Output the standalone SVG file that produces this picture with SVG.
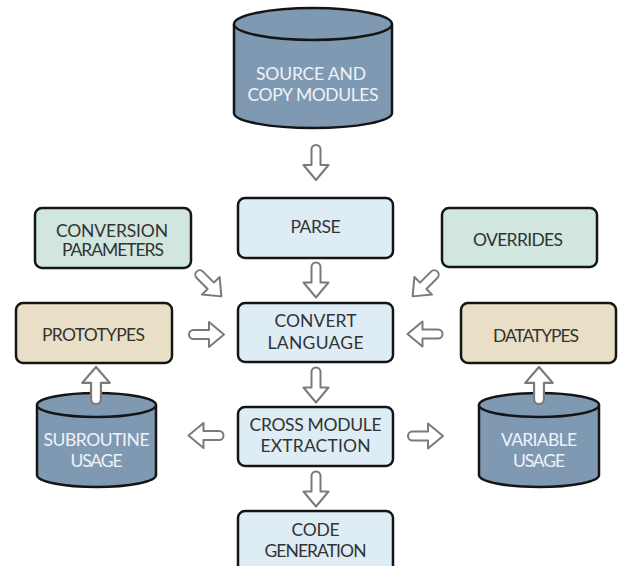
<svg xmlns="http://www.w3.org/2000/svg" width="618" height="566" viewBox="0 0 618 566">
<style>
.box{stroke:#151515;stroke-width:2.5}
.blue{fill:#deedf5}
.green{fill:#d0e6df}
.tan{fill:#e8dfc6}
.cyl{fill:#8099b3;stroke:#151515;stroke-width:2.5}
text{font-family:Lato,"Open Sans","Liberation Sans",sans-serif;font-size:17.5px;text-anchor:middle}
.dark{fill:#333333}
.light{fill:#eef3f8}
.arrow{fill:#ffffff;stroke:#7a7a7a;stroke-width:2;stroke-linejoin:round}
</style>
<defs>
<path id="arr" d="M 2.5,-4.5 L -13,-4.5 A 4.5 4.5 0 0 0 -13,4.5 L 2.5,4.5 L 2.5,12.5 L 17.5,0 L 2.5,-12.5 Z"/>
</defs>
<rect width="618" height="566" fill="#ffffff"/>

<g id="source">
<path class="cyl" d="M 234,24 L 234,113 A 79 15 0 0 0 392,113 L 392,24"/>
<ellipse class="cyl" cx="313" cy="24" rx="79" ry="16"/>
<text class="light" x="311" y="80" textLength="110">SOURCE AND</text>
<text class="light" x="313" y="101" textLength="131">COPY MODULES</text>
</g>

<g id="parse">
<rect class="box blue" x="238" y="198" width="155" height="60" rx="7"/>
<text class="dark" x="315.5" y="233" textLength="50">PARSE</text>
</g>

<g id="convparams">
<rect class="box green" x="35" y="208" width="156" height="60" rx="7"/>
<text class="dark" x="112" y="237" textLength="112">CONVERSION</text>
<text class="dark" x="113" y="256" textLength="102">PARAMETERS</text>
</g>

<g id="overrides">
<rect class="box green" x="442" y="208" width="155" height="59" rx="7"/>
<text class="dark" x="518" y="246" textLength="90">OVERRIDES</text>
</g>

<g id="prototypes">
<rect class="box tan" x="16" y="303" width="156" height="60" rx="7"/>
<text class="dark" x="93.5" y="341" textLength="103">PROTOTYPES</text>
</g>

<g id="convert">
<rect class="box blue" x="238" y="303" width="155" height="59" rx="7"/>
<text class="dark" x="315.5" y="327" textLength="82">CONVERT</text>
<text class="dark" x="315.5" y="349" textLength="96">LANGUAGE</text>
</g>

<g id="datatypes">
<rect class="box tan" x="461" y="303" width="155" height="60" rx="7"/>
<text class="dark" x="536" y="342" textLength="86">DATATYPES</text>
</g>

<g id="cross">
<rect class="box blue" x="238" y="407" width="155" height="59" rx="7"/>
<text class="dark" x="315.5" y="431" textLength="132">CROSS MODULE</text>
<text class="dark" x="315.5" y="452" textLength="110">EXTRACTION</text>
</g>

<g id="codegen">
<rect class="box blue" x="238" y="511" width="155" height="80" rx="7"/>
<text class="dark" x="315.5" y="536" textLength="48">CODE</text>
<text class="dark" x="315.5" y="557" textLength="102">GENERATION</text>
</g>

<g id="subroutine">
<path class="cyl" d="M 37,405 L 37,475 A 59.5 12 0 0 0 156,475 L 156,405"/>
<ellipse class="cyl" cx="96.5" cy="405" rx="59.5" ry="12"/>
<text class="light" x="96.5" y="446" textLength="106">SUBROUTINE</text>
<text class="light" x="96.5" y="467" textLength="52">USAGE</text>
</g>

<g id="variable">
<path class="cyl" d="M 479,405 L 479,475 A 60 12 0 0 0 599,475 L 599,405"/>
<ellipse class="cyl" cx="539" cy="405" rx="60" ry="12"/>
<text class="light" x="539" y="446" textLength="76">VARIABLE</text>
<text class="light" x="539" y="467" textLength="52">USAGE</text>
</g>

<g id="connectors">
<use href="#arr" class="arrow" transform="translate(316,162.5) rotate(90)"/>
<use href="#arr" class="arrow" transform="translate(316,280) rotate(90)"/>
<use href="#arr" class="arrow" transform="translate(316,385) rotate(90)"/>
<use href="#arr" class="arrow" transform="translate(316,489) rotate(90)"/>
<use href="#arr" class="arrow" transform="translate(209,284) rotate(45)"/>
<use href="#arr" class="arrow" transform="translate(425,284) rotate(135)"/>
<use href="#arr" class="arrow" transform="translate(206.5,334.5)"/>
<use href="#arr" class="arrow" transform="translate(425,334) rotate(180)"/>
<use href="#arr" class="arrow" transform="translate(206,435.5) rotate(180)"/>
<use href="#arr" class="arrow" transform="translate(425.5,436)"/>
<use href="#arr" class="arrow" transform="translate(96,385.5) rotate(-90) scale(1.06,1.1)"/>
<use href="#arr" class="arrow" transform="translate(539,385.5) rotate(-90) scale(1.06,1.1)"/>
</g>
</svg>
